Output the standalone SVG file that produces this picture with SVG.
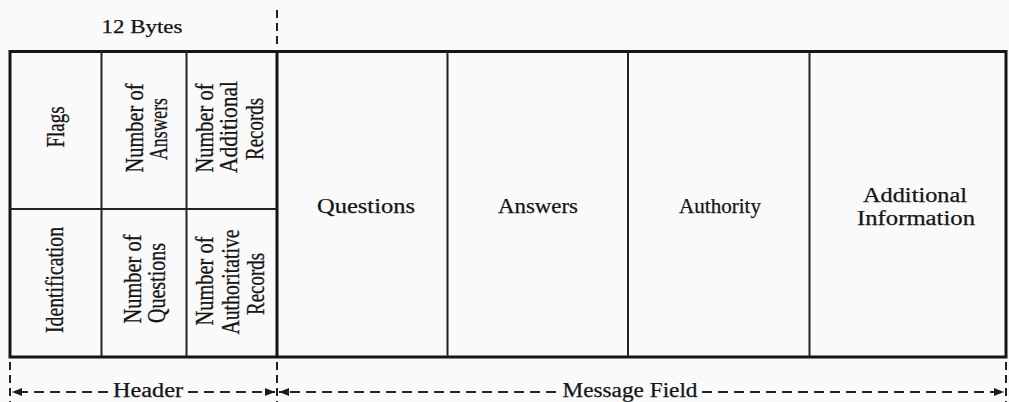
<svg xmlns="http://www.w3.org/2000/svg" width="1009" height="402" viewBox="0 0 1009 402">
<style>
.t{font-family:"Liberation Serif","Times New Roman",serif;fill:#151515;stroke:#151515;stroke-width:0.25}
.h{font-size:20px;text-anchor:middle}
.v{font-size:19px;text-anchor:middle}
.thick{stroke:#151515;stroke-width:3;fill:none}
.thin{stroke:#222;stroke-width:2;fill:none}
.dash{stroke:#222;stroke-width:2;stroke-dasharray:10 6;fill:none}
.vdash{stroke:#222;stroke-width:2;stroke-dasharray:8 5;fill:none}
</style>
<defs>
<marker id="ah" viewBox="0 0 10 8" refX="10" refY="4" markerWidth="10" markerHeight="8" markerUnits="userSpaceOnUse" orient="auto-start-reverse">
<path d="M0,0 L10,4 L0,8 Z" fill="#1a1a1a"/>
</marker>
</defs>
<rect x="0" y="0" width="1009" height="402" fill="#fafafa"/>
<text class="t" x="142" y="33" font-size="18" text-anchor="middle" textLength="81" lengthAdjust="spacingAndGlyphs">12 Bytes</text>

<g id="frame">
<rect class="thick" x="10" y="51.5" width="996" height="305.5"/>
<line class="thick" x1="277" y1="51.5" x2="277" y2="357"/>
</g>

<g id="header">
<line class="thin" x1="101.5" y1="51.5" x2="101.5" y2="357"/>
<line class="thin" x1="186.5" y1="51.5" x2="186.5" y2="357"/>
<line class="thin" x1="10" y1="209" x2="277" y2="209"/>
</g>

<g id="flags"><text class="t v" transform="translate(64,127) scale(1.3,1) rotate(-90)" textLength="41" lengthAdjust="spacingAndGlyphs">Flags</text></g>
<g id="num-answers">
<text class="t v" transform="translate(143,128) scale(1.3,1) rotate(-90)" textLength="89" lengthAdjust="spacingAndGlyphs">Number of</text>
<text class="t v" transform="translate(167,129) scale(1.3,1) rotate(-90)" textLength="62" lengthAdjust="spacingAndGlyphs">Answers</text>
</g>
<g id="num-additional">
<text class="t v" transform="translate(213,128) scale(1.3,1) rotate(-90)" textLength="89" lengthAdjust="spacingAndGlyphs">Number of</text>
<text class="t v" transform="translate(237,127) scale(1.3,1) rotate(-90)" textLength="92" lengthAdjust="spacingAndGlyphs">Additional</text>
<text class="t v" transform="translate(263,129) scale(1.3,1) rotate(-90)" textLength="62" lengthAdjust="spacingAndGlyphs">Records</text>
</g>
<g id="identification"><text class="t v" transform="translate(63,280) scale(1.3,1) rotate(-90)" textLength="106" lengthAdjust="spacingAndGlyphs">Identification</text></g>
<g id="num-questions">
<text class="t v" transform="translate(141,279) scale(1.3,1) rotate(-90)" textLength="89" lengthAdjust="spacingAndGlyphs">Number of</text>
<text class="t v" transform="translate(165,283) scale(1.3,1) rotate(-90)" textLength="80" lengthAdjust="spacingAndGlyphs">Questions</text>
</g>
<g id="num-authoritative">
<text class="t v" transform="translate(213,281) scale(1.3,1) rotate(-90)" textLength="89" lengthAdjust="spacingAndGlyphs">Number of</text>
<text class="t v" transform="translate(239,282) scale(1.3,1) rotate(-90)" textLength="105" lengthAdjust="spacingAndGlyphs">Authoritative</text>
<text class="t v" transform="translate(264,284) scale(1.3,1) rotate(-90)" textLength="62" lengthAdjust="spacingAndGlyphs">Records</text>
</g>

<g id="questions">
<line class="thin" x1="447.5" y1="51.5" x2="447.5" y2="357"/>
<text class="t h" x="366" y="213" textLength="98" lengthAdjust="spacingAndGlyphs">Questions</text>
</g>
<g id="answers">
<line class="thin" x1="628" y1="51.5" x2="628" y2="357"/>
<text class="t h" x="538" y="213" textLength="80" lengthAdjust="spacingAndGlyphs">Answers</text>
</g>
<g id="authority">
<line class="thin" x1="809.5" y1="51.5" x2="809.5" y2="357"/>
<text class="t h" x="720" y="213" textLength="82" lengthAdjust="spacingAndGlyphs">Authority</text>
</g>
<g id="additional-information">
<text class="t h" x="915" y="202" textLength="104" lengthAdjust="spacingAndGlyphs">Additional</text>
<text class="t h" x="916" y="225" textLength="118" lengthAdjust="spacingAndGlyphs">Information</text>
</g>

<g id="connectors">
<line class="vdash" x1="277" y1="10" x2="277" y2="48"/>
<line class="vdash" x1="10" y1="362" x2="10" y2="402"/>
<line class="vdash" x1="277" y1="362" x2="277" y2="402"/>
<line class="vdash" x1="1006" y1="362" x2="1006" y2="402"/>
<line class="dash" x1="108" y1="392" x2="12" y2="392" marker-end="url(#ah)"/>
<line class="dash" x1="188" y1="392" x2="275" y2="392" marker-end="url(#ah)"/>
<line class="dash" x1="556" y1="392" x2="279" y2="392" marker-end="url(#ah)"/>
<line class="dash" x1="702" y1="392" x2="1004" y2="392" marker-end="url(#ah)"/>
</g>
<text class="t" x="148" y="397" font-size="20" text-anchor="middle" textLength="70" lengthAdjust="spacingAndGlyphs">Header</text>
<text class="t" x="630" y="397" font-size="20" text-anchor="middle" textLength="135" lengthAdjust="spacingAndGlyphs">Message Field</text>
</svg>
